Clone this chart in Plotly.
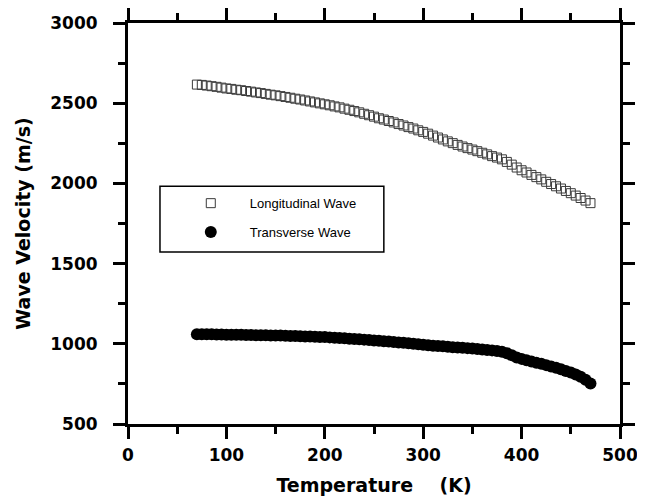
import plotly.graph_objects as go

# Temperature (K) and velocity (m/s)
temp_long = [70, 75, 80, 85, 90, 95, 100, 105, 110, 115, 120, 125, 130, 135, 140, 145,
             150, 155, 160, 165, 170, 175, 180, 185, 190, 195, 200, 205, 210, 215, 220,
             225, 230, 235, 240, 245, 250, 255, 260, 265, 270, 275, 280, 285, 290, 295,
             300, 305, 310, 315, 320, 325, 330, 335, 340, 345, 350, 355, 360, 365, 370,
             375, 380, 385, 390, 395, 400, 405, 410, 415, 420, 425, 430, 435, 440, 445,
             450, 455, 460, 465, 470]
vel_long = [2616, 2614, 2610, 2606, 2602, 2597, 2592, 2589, 2584, 2581, 2576, 2572, 2567,
            2563, 2558, 2553, 2549, 2544, 2539, 2534, 2528, 2523, 2517, 2511, 2505, 2499,
            2493, 2487, 2480, 2474, 2466, 2459, 2451, 2443, 2434, 2425, 2416, 2406, 2398,
            2389, 2380, 2370, 2361, 2351, 2342, 2331, 2321, 2310, 2298, 2286, 2274, 2262,
            2251, 2240, 2230, 2220, 2211, 2201, 2191, 2181, 2170, 2161, 2150, 2134, 2117,
            2099, 2082, 2068, 2053, 2039, 2025, 2010, 1996, 1982, 1968, 1953, 1939, 1924,
            1909, 1893, 1877]

temp_trans = [70, 75, 80, 85, 90, 95, 100, 105, 110, 115, 120, 125, 130, 135, 140, 145,
              150, 155, 160, 165, 170, 175, 180, 185, 190, 195, 200, 205, 210, 215, 220,
              225, 230, 235, 240, 245, 250, 255, 260, 265, 270, 275, 280, 285, 290, 295,
              300, 305, 310, 315, 320, 325, 330, 335, 340, 345, 350, 355, 360, 365, 370,
              375, 380, 385, 390, 395, 400, 405, 410, 415, 420, 425, 430, 435, 440, 445,
              450, 455, 460, 465, 470]
vel_trans = [1060, 1060, 1059, 1059, 1058, 1058, 1057, 1057, 1056, 1056, 1055, 1055, 1054,
             1054, 1053, 1052, 1052, 1051, 1050, 1049, 1048, 1047, 1046, 1045, 1044, 1043,
             1042, 1040, 1038, 1036, 1034, 1032, 1030, 1028, 1026, 1024, 1021, 1019, 1016,
             1014, 1011, 1008, 1006, 1003, 1000, 997, 994, 991, 988, 986, 984, 981, 979,
             977, 975, 973, 971, 968, 965, 962, 959, 955, 950, 941, 929, 915, 906, 898, 890,
             882, 875, 867, 859, 850, 841, 831, 821, 809, 795, 776, 752]

x_ticks = [0, 100, 200, 300, 400, 500]
y_ticks = [500, 1000, 1500, 2000, 2500, 3000]

BOLD_TICK = dict(family="DejaVu Sans, sans-serif", size=17, color="black", weight="bold")
BOLD_TITLE = dict(family="DejaVu Sans, sans-serif", size=19, color="black", weight="bold")

fig = go.Figure()
fig.add_trace(go.Scatter(
    x=temp_long, y=vel_long, mode="markers", name="Longitudinal Wave",
    legendgroup="a",
    marker=dict(symbol="square-open", size=9, color="#3a3a3a", line=dict(width=1)),
))
fig.add_trace(go.Scatter(
    x=temp_trans, y=vel_trans, mode="markers", name="Transverse Wave",
    legendgroup="b",
    marker=dict(symbol="circle", size=12, color="black"),
))

axis_common = dict(
    showline=True, linecolor="black", linewidth=3, mirror="allticks",
    ticks="outside", ticklen=12, tickwidth=2.5, tickcolor="black",
    showgrid=False, zeroline=False, tickfont=BOLD_TICK, automargin=False,
)

fig.update_xaxes(
    range=[0, 500], tickvals=x_ticks, ticklabelstandoff=2,
    minor=dict(dtick=50, ticks="outside", ticklen=7, tickwidth=2.5, tickcolor="black"),
    title=dict(text="Temperature\u00a0\u00a0\u00a0\u00a0(K)", font=BOLD_TITLE),
    **axis_common,
)
fig.update_yaxes(
    range=[500, 3000], tickvals=y_ticks, ticklabelstandoff=12,
    minor=dict(dtick=250, ticks="outside", ticklen=7, tickwidth=2.5, tickcolor="black"),
    title=dict(text="Wave Velocity (m/s)", font=BOLD_TITLE),
    **axis_common,
)

fig.add_shape(type="rect", xref="paper", yref="paper",
              x0=0.065, x1=0.520, y0=0.429, y1=0.593,
              line=dict(color="black", width=1.5), fillcolor="rgba(0,0,0,0)")

fig.update_layout(
    width=637, height=492,
    margin=dict(l=120, r=25, t=15, b=76, autoexpand=False),
    plot_bgcolor="white", paper_bgcolor="white",
    showlegend=True,
    legend=dict(x=0.089, y=0.588, xanchor="left", yanchor="top",
                bgcolor="rgba(0,0,0,0)", borderwidth=0,
                font=dict(family="Liberation Sans, Arial, sans-serif", size=13, color="black"),
                itemwidth=68, tracegroupgap=9),
)

fig.write_html("out.html")
